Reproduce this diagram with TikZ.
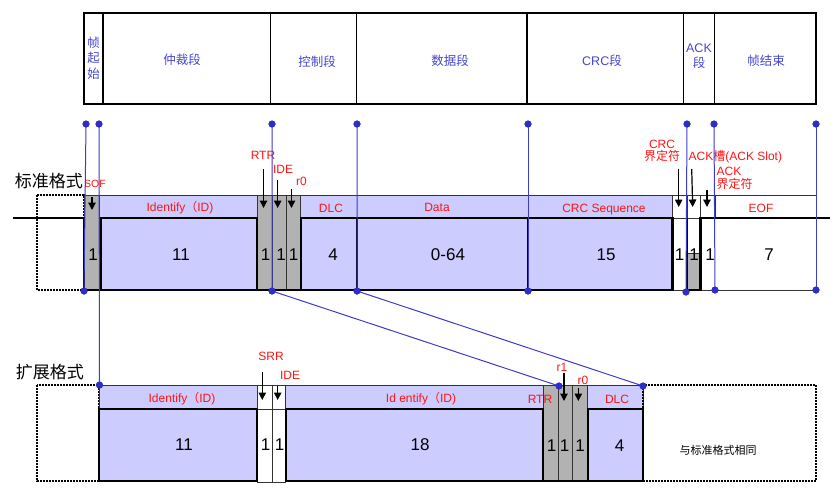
\documentclass[tikz,border=0pt]{standalone}
\usepackage{fontspec}
\setmainfont{Liberation Sans}
\newfontfamily\cjk{Noto Sans CJK SC}
\usetikzlibrary{arrows.meta}
\definecolor{lav}{RGB}{204,204,255}
\definecolor{gbox}{RGB}{178,178,178}
\definecolor{bln}{RGB}{60,60,200}
\definecolor{bdot}{RGB}{45,45,200}
\definecolor{ttxt}{RGB}{70,70,205}
\definecolor{rtxt}{RGB}{255,20,20}
\tikzset{
  lbl/.style={text=rtxt, font=\fontsize{12}{14}\selectfont, inner sep=0pt, align=center},
  sof/.style={text=rtxt, font=\fontsize{10.5}{11}\selectfont, inner sep=0pt},
  num/.style={font=\fontsize{17}{18}\selectfont, inner sep=0pt},
  hdr/.style={text=ttxt, font=\cjk\fontsize{12.5}{15.5}\selectfont, inner sep=0pt, align=center},
  cnl/.style={font=\cjk\fontsize{17}{18}\selectfont, inner sep=0pt},
  note/.style={font=\cjk\fontsize{11}{12}\selectfont, inner sep=0pt},
  bdotn/.style={circle, fill=bdot, inner sep=0pt, minimum size=7pt},
  bl/.style={draw=bln, line width=1pt},
  thinb/.style={draw=black!80, line width=0.8pt},
  thk/.style={draw=black, line width=2.8pt},
  dotbox/.style={draw=black, line width=2.2pt, dash pattern=on 1.6pt off 1.4pt},
  arr/.style={-{Triangle[length=7.5pt,width=7.5pt]}, line width=1.2pt, draw=black},
  tcell/.style={draw=black, line width=1.6pt}
}
\begin{document}
\begin{tikzpicture}[x=1pt,y=-1pt]
\useasboundingbox (0,0) rectangle (839,493);

% ---------- top table ----------
\foreach \a/\b in {84/103,103/270.5,270.5/356.5,356.5/527,527/683.5,683.5/714.5,714.5/816}
  \draw[tcell] (\a,13) rectangle (\b,104);
\draw[line width=2pt] (84,13) rectangle (816,104);
\node[hdr] (h1) at (93.5,58) {帧\\起\\始};
\node[hdr] (h2) at (182,60) {仲裁段};
\node[hdr] (h3) at (317,62) {控制段};
\node[hdr] (h4) at (450,61) {数据段};
\node[hdr] (h5) at (602,61) {{\normalfont\fontsize{12.5}{15}\selectfont CRC}段};
\node[hdr] (h6) at (699,56) {{\normalfont\fontsize{12.5}{15}\selectfont ACK}\\段};
\node[hdr] (h7) at (766,61) {帧结束};

% ---------- standard frame ----------
\draw[dotbox] (37,195) rectangle (84,290);
\filldraw[fill=gbox, thinb] (84,195) rectangle (99,290);
\filldraw[fill=lav, thinb] (99,195) rectangle (257,218);
\fill[lav] (100,218) rectangle (257,290);
\filldraw[fill=gbox, thinb] (257.5,195) rectangle (272,290);
\filldraw[fill=gbox, thinb] (272,195) rectangle (286,290);
\filldraw[fill=gbox, thinb] (286,195) rectangle (300.5,290);
\filldraw[fill=lav, thinb] (300.5,195) rectangle (672,218);
\fill[lav] (301,218) rectangle (672.5,290);
\draw[thinb] (672,195) rectangle (816,218);
\draw[thinb] (687,195) -- (687,218);
\draw[thinb] (700.5,195) -- (700.5,218);
\draw[thinb] (715,195) -- (715,218);
\draw[thinb] (672.5,218) -- (687,218);
\draw[thinb] (672.5,290) -- (816,290) -- (816,218);
\fill[gbox] (687,253) rectangle (700.5,290);
\draw[thinb] (687,253) -- (700.5,253);
\draw[thk] (13,218) -- (84,218) -- (84,290) -- (672.5,290);
\draw[thk] (101,218) rectangle (257,290);
\draw[thk] (301,218) rectangle (672.5,290);
\draw[thk] (357,218) -- (357,290);
\draw[thk] (528,218) -- (528,290);
\draw[thk] (687,218) -- (687,290) -- (700.5,290) -- (700.5,218) -- (830,218);

% ---------- extended frame ----------
\draw[dotbox] (37,385) rectangle (99,481);
\filldraw[fill=lav, thinb] (99,385) rectangle (257,409);
\fill[lav] (99,409) rectangle (257,481);
\draw[thinb] (257,385) rectangle (272,482);
\draw[thinb] (272,385) rectangle (285.5,482);
\draw[thinb] (257,409) -- (285.5,409);
\filldraw[fill=lav, thinb] (285.5,385) rectangle (543,409);
\fill[lav] (286,409) rectangle (543,481);
\filldraw[fill=gbox, thinb] (543,385) rectangle (558,481);
\filldraw[fill=gbox, thinb] (558,385) rectangle (572,481);
\filldraw[fill=gbox, thinb] (572,385) rectangle (587,481);
\filldraw[fill=lav, thinb] (587,385) rectangle (643,409);
\fill[lav] (588,409) rectangle (643,481);
\draw[dotbox] (643,385) rectangle (816,481);
\draw[thk] (99,409) rectangle (257,481);
\draw[thk] (286,409) rectangle (543,481);
\draw[thk] (588,409) rectangle (643,481);
\draw[thk] (543,481) -- (588,481);

% ---------- side titles ----------
\node[cnl] (std) at (49,181) {标准格式};
\node[cnl] (ext) at (50,372) {扩展格式};

% ---------- field labels (standard) ----------
\node[lbl] (lid) at (180,208) {Identify{\cjk （}ID)};
\node[lbl] (ldlc) at (331,208) {DLC};
\node[lbl] (ldata) at (437,207) {Data};
\node[lbl] (lcrc) at (604,210) {CRC Sequence};
\node[lbl] (leof) at (761,208) {EOF};
% numbers standard
\node[num] (n1) at (93,255) {1};
\node[num] (n2) at (181,255) {11};
\node[num] (n3) at (265.5,255) {1};
\node[num] (n4) at (281,255) {1};
\node[num] (n5) at (293.5,255) {1};
\node[num] (n6) at (333,255) {4};
\node[num] (n7) at (448,255) {0-64};
\node[num] (n8) at (606,255) {15};
\node[num] (n9) at (679.5,255) {1};
\node[num] (n10) at (694,255) {1};
\node[num] (n11) at (710,255) {1};
\node[num] (n12) at (769,255) {7};

% ---------- field labels (extended) ----------
\node[lbl] (xid) at (182,399) {Identify{\cjk （}ID)};
\node[lbl] (xid2) at (421,399) {Id entify{\cjk （}ID)};
\node[lbl] (xrtr) at (540,399) {RTR};
\node[lbl] (xdlc) at (617,399) {DLC};
\node[num] (m1) at (184,445) {11};
\node[num] (m2) at (265.5,445) {1};
\node[num] (m3) at (279.5,445) {1};
\node[num] (m4) at (420,445) {18};
\node[num] (m5) at (551.7,446) {1};
\node[num] (m6) at (564.5,446) {1};
\node[num] (m7) at (580,446) {1};
\node[num] (m8) at (619.5,446) {4};
\node[note] (same) at (718,450) {与标准格式相同};

% ---------- arrows & red labels (standard) ----------
\node[sof] (tsof) at (95,184) {SOF};
\coordinate (a1s) at (92,197);  \coordinate (a1e) at (92,210);
\draw[arr] (a1s) -- (a1e);
\node[lbl] (trtr) at (263,155) {RTR};
\coordinate (a2s) at (263.5,169); \coordinate (a2e) at (263.5,208);
\draw[arr] (a2s) -- (a2e);
\node[lbl] (tide) at (283,169) {IDE};
\coordinate (a3s) at (277.7,180); \coordinate (a3e) at (277.7,208);
\draw[arr] (a3s) -- (a3e);
\node[lbl] (tr0) at (301.5,181.5) {r0};
\coordinate (a4s) at (291.5,189); \coordinate (a4e) at (291.5,208);
\draw[arr] (a4s) -- (a4e);
\node[lbl, font=\fontsize{12}{12.5}\selectfont] (tcrcd) at (662,151) {CRC\\{\cjk 界定符}};
\coordinate (a5s) at (678.7,169); \coordinate (a5e) at (678.7,207);
\draw[arr] (a5s) -- (a5e);
\node[lbl, anchor=west] (tack) at (688.5,157) {ACK{\cjk 槽}(ACK Slot)};
\coordinate (a6s) at (691.7,169); \coordinate (a6e) at (692.7,207);
\draw[arr] (a6s) -- (a6e);
\node[lbl, anchor=west, align=left, font=\fontsize{12}{12.5}\selectfont] (tackd) at (716.5,178.5) {ACK\\{\cjk 界定符}};
\coordinate (a7s) at (707,190); \coordinate (a7e) at (707,207);
\draw[arr] (a7s) -- (a7e);

% ---------- arrows & red labels (extended) ----------
\node[lbl] (xsrr) at (271,356) {SRR};
\coordinate (b1s) at (262.3,372); \coordinate (b1e) at (262.3,400);
\draw[arr] (b1s) -- (b1e);
\node[lbl] (xide) at (290,375) {IDE};
\coordinate (b2s) at (277.7,386); \coordinate (b2e) at (277.7,400);
\draw[arr] (b2s) -- (b2e);
\node[lbl] (xr1) at (562,367) {r1};
\coordinate (b3s) at (564,373); \coordinate (b3e) at (564,401);
\draw[arr] (b3s) -- (b3e);
\node[lbl] (xr0) at (583,380) {r0};
\coordinate (b4s) at (578.3,388); \coordinate (b4e) at (578.3,401);
\draw[arr] (b4s) -- (b4e);

% ---------- blue guide lines ----------
\node[bdotn] (t1) at (86,124) {};
\node[bdotn] (t2) at (99,124) {};
\node[bdotn] (t3) at (272,124) {};
\node[bdotn] (t4) at (357,124) {};
\node[bdotn] (t5) at (528,124) {};
\node[bdotn] (t6) at (687,124) {};
\node[bdotn] (t7) at (714,124) {};
\node[bdotn] (t8) at (816,124) {};
\node[bdotn] (u1) at (84,291) {};
\node[bdotn] (u2) at (99.5,385) {};
\node[bdotn] (u3) at (272,291) {};
\node[bdotn] (u4) at (357,291) {};
\node[bdotn] (u5) at (528,291) {};
\node[bdotn] (u6) at (686,292) {};
\node[bdotn] (u7) at (715,290) {};
\node[bdotn] (u8) at (816,290) {};
\node[bdotn] (v3) at (559,386) {};
\node[bdotn] (v4) at (643,386) {};
\draw[bl] (t1.center) -- (u1.center);
\draw[bl] (t2.center) -- (u2.center);
\draw[bl] (t3.center) -- (u3.center) -- (v3.center);
\draw[bl] (t4.center) -- (u4.center) -- (v4.center);
\draw[bl] (t5.center) -- (u5.center);
\draw[bl] (t6.center) -- (u6.center);
\draw[bl] (t7.center) -- (u7.center);
\draw[bl] (t8.center) -- (u8.center);
\foreach \n in {t1,t2,t3,t4,t5,t6,t7,t8,u1,u2,u3,u4,u5,u6,u7,u8,v3,v4}
  \fill[bdot] (\n) circle (3.5pt);
\end{tikzpicture}
\end{document}
